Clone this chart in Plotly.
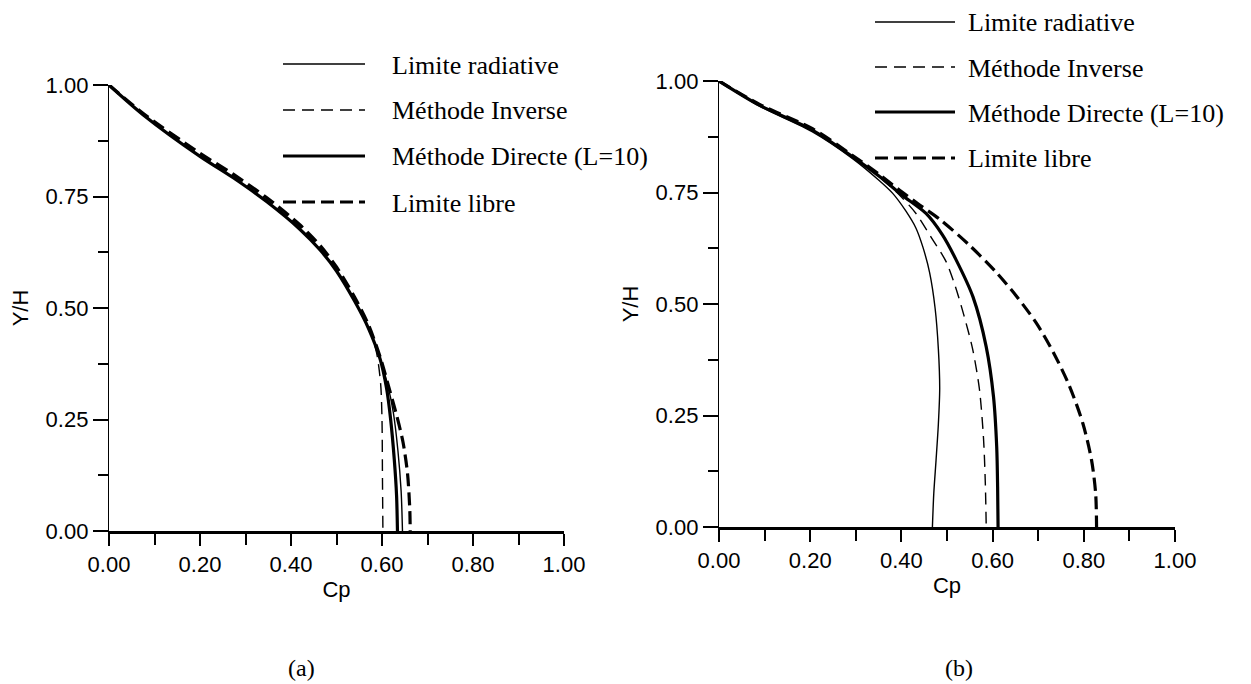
import plotly.graph_objects as go

# ---------------- data ----------------
series_names = ["Limite radiative", "Méthode Inverse", "Méthode Directe (L=10)", "Limite libre"]
panel_labels = ["(a)", "(b)"]
x_title = "Cp"
y_title = "Y/H"
tick_vals = [0.0, 0.2, 0.4, 0.6, 0.8, 1.0]
y_tick_vals = [0.0, 0.25, 0.5, 0.75, 1.0]

# panel (a)
a_rad_cp = [0, 0.0754, 0.2, 0.273, 0.347, 0.42, 0.464, 0.5, 0.54, 0.57, 0.596, 0.612, 0.625, 0.635, 0.642, 0.645]
a_rad_yh = [1, 0.933, 0.840, 0.792, 0.738, 0.676, 0.630, 0.583, 0.515, 0.455, 0.385, 0.330, 0.265, 0.180, 0.090, 0.0]
a_inv_cp = [0, 0.0754, 0.2, 0.273, 0.347, 0.42, 0.464, 0.5, 0.54, 0.57, 0.588, 0.597, 0.600, 0.601, 0.602]
a_inv_yh = [1, 0.935, 0.843, 0.796, 0.742, 0.681, 0.635, 0.588, 0.520, 0.460, 0.400, 0.330, 0.250, 0.120, 0.0]
a_dir_cp = [0, 0.0754, 0.2, 0.273, 0.347, 0.42, 0.464, 0.5, 0.54, 0.57, 0.596, 0.610, 0.619, 0.627, 0.632, 0.634]
a_dir_yh = [1, 0.933, 0.840, 0.792, 0.738, 0.676, 0.630, 0.583, 0.515, 0.455, 0.385, 0.320, 0.250, 0.160, 0.080, 0.0]
a_lib_cp = [0, 0.0754, 0.2, 0.273, 0.347, 0.42, 0.464, 0.5, 0.54, 0.57, 0.596, 0.617, 0.632, 0.646, 0.656, 0.661, 0.662]
a_lib_yh = [1, 0.936, 0.847, 0.800, 0.747, 0.686, 0.640, 0.592, 0.524, 0.463, 0.390, 0.315, 0.260, 0.200, 0.130, 0.050, 0.0]

# panel (b)
b_rad_cp = [0, 0.088, 0.205, 0.293, 0.35, 0.381, 0.41, 0.432, 0.447, 0.462, 0.474, 0.481, 0.484, 0.481, 0.476, 0.471, 0.468]
b_rad_yh = [1, 0.944, 0.886, 0.826, 0.778, 0.748, 0.708, 0.670, 0.628, 0.570, 0.490, 0.400, 0.310, 0.230, 0.150, 0.075, 0.0]
b_inv_cp = [0, 0.088, 0.205, 0.293, 0.352, 0.40, 0.432, 0.465, 0.498, 0.518, 0.537, 0.556, 0.571, 0.580, 0.584, 0.586]
b_inv_yh = [1, 0.946, 0.889, 0.829, 0.785, 0.740, 0.703, 0.650, 0.595, 0.540, 0.475, 0.400, 0.310, 0.200, 0.100, 0.0]
b_dir_cp = [0, 0.088, 0.205, 0.293, 0.352, 0.40, 0.454, 0.49, 0.52, 0.557, 0.586, 0.602, 0.609, 0.611, 0.612]
b_dir_yh = [1, 0.946, 0.890, 0.830, 0.786, 0.745, 0.703, 0.655, 0.599, 0.516, 0.404, 0.292, 0.180, 0.090, 0.0]
b_lib_cp = [0, 0.088, 0.205, 0.293, 0.352, 0.40, 0.44, 0.484, 0.549, 0.608, 0.652, 0.696, 0.733, 0.769, 0.798, 0.817, 0.826, 0.828]
b_lib_yh = [1, 0.948, 0.893, 0.833, 0.790, 0.752, 0.722, 0.690, 0.632, 0.571, 0.518, 0.457, 0.392, 0.315, 0.232, 0.150, 0.075, 0.0]

# ---------------- styles ----------------
W, H = 1251, 684
styles = [
    dict(width=1.4, dash="solid"),
    dict(width=1.4, dash="12px,7px"),
    dict(width=3.2, dash="solid"),
    dict(width=3.2, dash="13px,6px"),
]
SANS = "Liberation Sans, Arial, sans-serif"
SERIF = "Liberation Serif, Times New Roman, serif"

fig = go.Figure()

panel_a = [(a_rad_cp, a_rad_yh), (a_inv_cp, a_inv_yh), (a_dir_cp, a_dir_yh), (a_lib_cp, a_lib_yh)]
panel_b = [(b_rad_cp, b_rad_yh), (b_inv_cp, b_inv_yh), (b_dir_cp, b_dir_yh), (b_lib_cp, b_lib_yh)]

for i, (cp, yh) in enumerate(panel_a):
    fig.add_trace(go.Scatter(x=cp, y=yh, mode="lines", name=series_names[i],
                             line=dict(color="black", shape="spline", smoothing=0.8, **styles[i]),
                             xaxis="x", yaxis="y", showlegend=False))
for i, (cp, yh) in enumerate(panel_b):
    fig.add_trace(go.Scatter(x=cp, y=yh, mode="lines", name=series_names[i],
                             line=dict(color="black", shape="spline", smoothing=0.8, **styles[i]),
                             xaxis="x2", yaxis="y2", showlegend=False))

def px_x(p):
    return p / W

def px_y(p):
    return (H - p) / H

common_x = dict(range=[0, 1], tickvals=tick_vals, tickformat=".2f", showline=True, linecolor="black",
                linewidth=2.5, ticks="outside", ticklen=12, tickwidth=1.5, tickcolor="black",
                minor=dict(dtick=0.1, tick0=0, ticks="outside", ticklen=11, tickwidth=1.5, tickcolor="black"),
                showgrid=False, zeroline=False, automargin=False,
                tickfont=dict(family=SANS, size=22, color="black"),
                title=dict(text=x_title, font=dict(family=SANS, size=22, color="black"), standoff=6))
common_y = dict(range=[0, 1], tickvals=y_tick_vals, tickformat=".2f", showline=True, linecolor="black",
                linewidth=1.3, ticks="outside", ticklen=15, tickwidth=1.5, tickcolor="black",
                minor=dict(dtick=0.125, tick0=0, ticks="outside", ticklen=10, tickwidth=1.5, tickcolor="black"),
                showgrid=False, zeroline=False, automargin=False, ticklabelstandoff=0,
                tickfont=dict(family=SANS, size=22, color="black"),
                title=dict(text=y_title, font=dict(family=SANS, size=22, color="black"), standoff=10))

fig.update_layout(
    width=W, height=H, margin=dict(l=0, r=0, t=0, b=0),
    paper_bgcolor="white", plot_bgcolor="white", showlegend=False,
    xaxis=dict(domain=[px_x(109), px_x(564)], anchor="y", **common_x),
    yaxis=dict(domain=[px_y(531), px_y(85)], anchor="x", **common_y),
    xaxis2=dict(domain=[px_x(719), px_x(1175)], anchor="y2", **common_x),
    yaxis2=dict(domain=[px_y(527), px_y(81)], anchor="x2", **common_y),
)

# legend keys (one block per panel)
legend_blocks = [
    dict(x0=283, x1=365, xt=390, rows=[64, 110, 156, 202]),
    dict(x0=875, x1=955, xt=966, rows=[22, 67, 112, 158]),
]
for blk in legend_blocks:
    for i, ry in enumerate(blk["rows"]):
        fig.add_shape(type="line", xref="paper", yref="paper",
                      x0=px_x(blk["x0"]), x1=px_x(blk["x1"]), y0=px_y(ry), y1=px_y(ry),
                      line=dict(color="black", width=styles[i]["width"], dash=styles[i]["dash"]))
        fig.add_annotation(xref="paper", yref="paper", x=px_x(blk["xt"]), y=px_y(ry + 1),
                           text=series_names[i], showarrow=False, xanchor="left", yanchor="middle",
                           font=dict(family=SERIF, size=26, color="black"))

# panel labels
for lbl, cx in zip(panel_labels, [301, 959]):
    fig.add_annotation(xref="paper", yref="paper", x=px_x(cx), y=px_y(668), text=lbl,
                       showarrow=False, xanchor="center", yanchor="middle",
                       font=dict(family=SERIF, size=24, color="black"))

fig.write_html("out.html")
